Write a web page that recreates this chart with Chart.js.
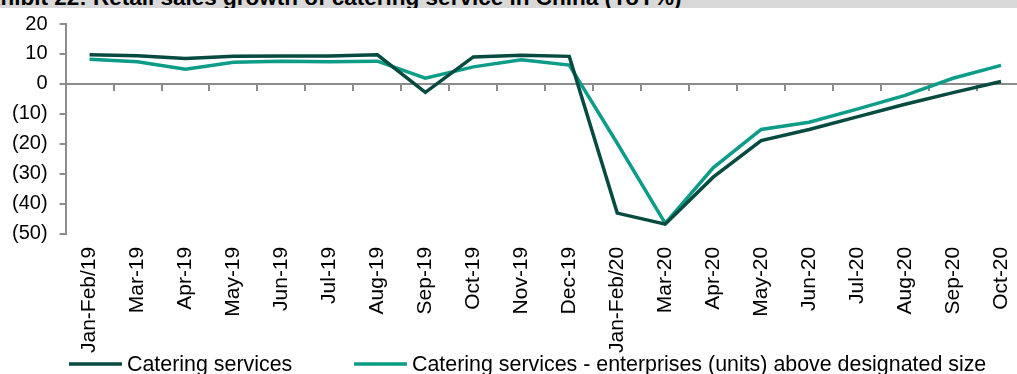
<!DOCTYPE html>
<html>
<head>
    <title>Retail sales growth of catering service in China</title>
    <script src="https://cdn.jsdelivr.net/npm/chart.js"></script>
    <style>
        body {
            margin: 0;
            background: #ffffff;
            overflow: hidden;
            font-family: "Liberation Sans", Arial, sans-serif;
        }
        #title-band {
            position: absolute;
            top: 0;
            left: 0;
            width: 1017px;
            height: 8px;
            background: #d9d9d9;
            overflow: hidden;
            z-index: 2;
        }
        #title-band span {
            position: absolute;
            left: -27px;
            top: -13px;
            font-weight: bold;
            font-size: 22.5px;
            line-height: 22.5px;
            white-space: nowrap;
            color: #000;
        }
        #chart-box {
            position: absolute;
            top: 0;
            left: 0;
        }
    </style>
</head>
<body>

<div id="title-band"><span>Exhibit 22: Retail sales growth of catering service in China (YoY%)</span></div>

<div id="chart-box">
    <canvas id="cateringChart" width="1040" height="374"></canvas>
</div>

<script>
// Monthly YoY growth, %
const categories = ['Jan-Feb/19', 'Mar-19', 'Apr-19', 'May-19', 'Jun-19', 'Jul-19', 'Aug-19', 'Sep-19',
    'Oct-19', 'Nov-19', 'Dec-19', 'Jan-Feb/20', 'Mar-20', 'Apr-20', 'May-20', 'Jun-20', 'Jul-20',
    'Aug-20', 'Sep-20', 'Oct-20'];
const cateringServices = [9.7, 9.4, 8.5, 9.2, 9.3, 9.3, 9.7, -2.8, 9.0, 9.6, 9.2, -43.1, -46.8,
    -31.1, -18.9, -15.2, -11.0, -6.8, -2.9, 0.8];
const aboveDesignatedSize = [8.2, 7.4, 4.9, 7.2, 7.6, 7.4, 7.6, 1.9, 5.7, 8.1, 6.3, -19.8, -46.5,
    -28.0, -15.2, -12.8, -8.4, -3.8, 1.9, 6.2];
const yTicks = [20, 10, 0, -10, -20, -30, -40, -50];

const axisGrey = '#8c8c8c';
const darkGreen = '#074b40';
const teal = '#0c9c88';
const fontFamily = 'Liberation Sans, Arial, sans-serif';

// Excel style legend: short line sample, text right after it, wide gap between entries
const legendX = [69, 354];
const legendY = 364;
const excelLegend = {
    id: 'excelLegend',
    afterDraw(chart) {
        const c = chart.ctx;
        c.save();
        c.font = '21.4px ' + fontFamily;
        c.textBaseline = 'middle';
        chart.data.datasets.forEach((ds, i) => {
            const x = legendX[i];
            c.strokeStyle = ds.borderColor;
            c.lineWidth = 3.5;
            c.beginPath();
            c.moveTo(x, legendY);
            c.lineTo(x + 53, legendY);
            c.stroke();
            c.fillStyle = '#000';
            c.fillText(ds.label, x + 58, legendY + 1);
        });
        c.restore();
    }
};

const ctx = document.getElementById('cateringChart').getContext('2d');
new Chart(ctx, {
    type: 'line',
    data: {
        labels: categories,
        datasets: [{
            label: 'Catering services',
            data: cateringServices,
            borderColor: darkGreen,
            borderWidth: 3.5,
            pointRadius: 0,
            tension: 0
        }, {
            label: 'Catering services - enterprises (units) above designated size',
            data: aboveDesignatedSize,
            borderColor: teal,
            borderWidth: 3.5,
            pointRadius: 0,
            tension: 0
        }]
    },
    plugins: [excelLegend],
    options: {
        responsive: false,
        animation: false,
        layout: {
            padding: { top: 11, right: 15, bottom: 8, left: 0 }
        },
        plugins: {
            tooltip: { enabled: false },
            legend: { display: false }
        },
        scales: {
            x: {
                position: 'bottom',
                offset: true,
                border: { display: false },
                grid: { display: false, drawTicks: false },
                ticks: {
                    color: '#000',
                    font: { family: fontFamily, size: 21 },
                    minRotation: 90,
                    maxRotation: 90,
                    padding: 13,
                    autoSkip: false
                }
            },
            // axis line drawn through zero, with tick marks between months
            xZero: {
                type: 'category',
                position: { y: 0 },
                offset: true,
                border: { display: true, color: axisGrey, width: 2 },
                grid: {
                    display: true,
                    offset: true,
                    drawOnChartArea: false,
                    drawTicks: true,
                    tickLength: 6,
                    color: axisGrey,
                    lineWidth: 2
                },
                ticks: { display: false }
            },
            y: {
                min: -50,
                max: 20,
                afterBuildTicks: axis => {
                    axis.ticks = yTicks.map(v => ({ value: v }));
                },
                border: { display: true, color: axisGrey, width: 2 },
                grid: {
                    drawOnChartArea: false,
                    drawTicks: true,
                    tickLength: 6,
                    color: axisGrey,
                    lineWidth: 2
                },
                ticks: {
                    color: '#000',
                    padding: 12,
                    autoSkip: false,
                    font: { family: fontFamily, size: 20 },
                    callback: value => value < 0 ? '(' + Math.abs(value) + ')' : String(value)
                }
            }
        }
    }
});
</script>

</body>
</html>
